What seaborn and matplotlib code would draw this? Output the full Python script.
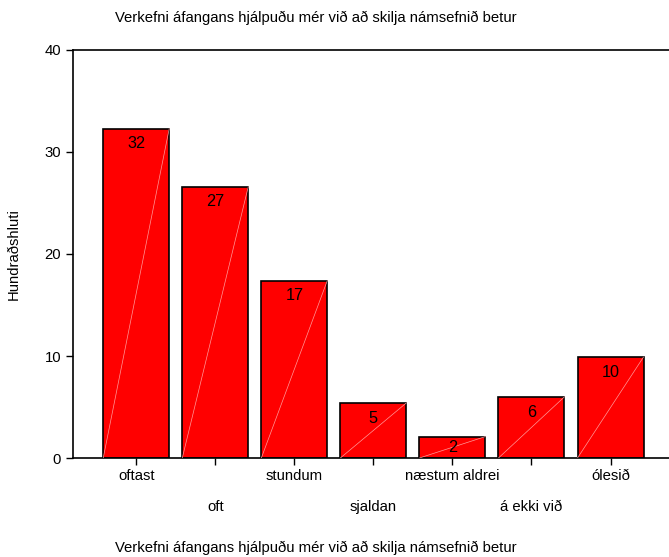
import matplotlib
matplotlib.use("Agg")
import matplotlib.pyplot as plt
import seaborn as sns

# svör og hlutfall (%)
categories = ['oftast', 'oft', 'stundum', 'sjaldan', 'næstum aldrei', 'á ekki við', 'ólesið']
percent = [32.3, 26.6, 17.4, 5.4, 2.1, 6.0, 9.9]
yticks = [0, 10, 20, 30, 40]
title = 'Verkefni áfangans hjálpuðu mér við að skilja námsefnið betur'

sns.set_style('white')
plt.rcParams['font.family'] = ['Liberation Sans', 'DejaVu Sans']
plt.rcParams['font.size'] = 10.7
plt.rcParams['text.color'] = 'black'
plt.rcParams['axes.labelcolor'] = 'black'
plt.rcParams['xtick.color'] = 'black'
plt.rcParams['ytick.color'] = 'black'

fig = plt.figure(figsize=(6.69, 5.57), dpi=100)
ax = fig.add_axes([73 / 669, 1 - 458 / 557, 596 / 669, 408 / 557])

sns.barplot(x=categories, y=percent, order=categories, color='#ff0000',
            saturation=1, edgecolor='black', linewidth=1.2, width=0.835, ax=ax)

# ljós skálína í hverri súlu eins og í SPSS
for p in ax.patches:
    x0, y0 = p.get_x(), p.get_y()
    ax.plot([x0, x0 + p.get_width()], [y0, y0 + p.get_height()],
            color='#ff9a9a', lw=0.5, zorder=3)

for i, v in enumerate(percent):
    ax.text(i, max(v - 1.5, v / 2), f'{v:.0f}', ha='center', va='center',
            fontsize=11.7, color='black', zorder=4)

ax.set_xlim(-0.8, 6.74)
ax.set_ylim(0, 40)
ax.set_yticks(yticks)
ax.tick_params(axis='both', direction='out', length=5, width=1, color='black',
               labelsize=10.7, labelcolor='black', left=True, bottom=True)
for i, t in enumerate(ax.xaxis.get_major_ticks()):
    t.set_pad(3 if i % 2 == 0 else 25)

for s in ['left', 'top', 'bottom']:
    ax.spines[s].set_visible(True)
    ax.spines[s].set_color('black')
    ax.spines[s].set_linewidth(1.2)
ax.spines['right'].set_visible(False)

ax.set_xlabel('')
ax.set_ylabel('Hundraðshluti', fontsize=10.7, color='black')
ax.yaxis.set_label_coords(-0.087, 0.5)

fig.text(115 / 669, 1 - 18 / 557, title, ha='left', va='center', fontsize=10.7)
fig.text(115 / 669, 1 - 548 / 557, title, ha='left', va='center', fontsize=10.7)

fig.savefig('out.png', dpi=100)
